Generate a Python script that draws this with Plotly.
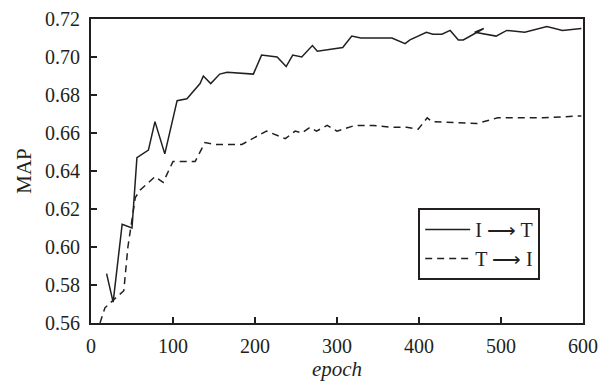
import plotly.graph_objects as go

# I -> T (solid)
it_epoch = [19, 27, 38, 50, 56, 70, 78, 90, 105, 117, 133, 137, 146, 157, 166, 198, 208, 227, 238, 246, 257, 270, 276, 307, 318, 329, 350, 367, 383, 389, 409, 417, 428, 438, 448, 454, 479, 468, 494, 507, 529, 556, 575, 598]
it_map = [0.586, 0.571, 0.612, 0.610, 0.647, 0.651, 0.666, 0.649, 0.677, 0.678, 0.686, 0.690, 0.686, 0.691, 0.692, 0.691, 0.701, 0.700, 0.695, 0.701, 0.700, 0.706, 0.703, 0.705, 0.711, 0.710, 0.710, 0.710, 0.707, 0.709, 0.713, 0.712, 0.712, 0.714, 0.709, 0.709, 0.715, 0.713, 0.711, 0.714, 0.713, 0.716, 0.714, 0.715]

# T -> I (dashed)
ti_epoch = [11, 17, 27, 40, 45, 54, 60, 78, 88, 100, 127, 139, 151, 184, 214, 237, 249, 257, 267, 275, 288, 300, 322, 344, 365, 385, 399, 410, 416, 471, 496, 551, 598]
ti_map = [0.560, 0.568, 0.572, 0.577, 0.600, 0.626, 0.630, 0.637, 0.634, 0.645, 0.645, 0.655, 0.654, 0.654, 0.661, 0.657, 0.661, 0.660, 0.663, 0.661, 0.664, 0.661, 0.664, 0.664, 0.663, 0.663, 0.662, 0.668, 0.666, 0.665, 0.668, 0.668, 0.669]

x_ticks = [0, 100, 200, 300, 400, 500, 600]
y_ticks = [0.56, 0.58, 0.60, 0.62, 0.64, 0.66, 0.68, 0.70, 0.72]

ink = "#231f20"
font_family = "Liberation Serif, Times New Roman, serif"

fig = go.Figure()
fig.add_trace(go.Scatter(x=it_epoch, y=it_map, mode="lines", name="I ⟶ T",
                         line=dict(color=ink, width=1.5)))
fig.add_trace(go.Scatter(x=ti_epoch, y=ti_map, mode="lines", name="T ⟶ I",
                         line=dict(color=ink, width=1.5, dash="7px,5px")))

axis_common = dict(showline=True, mirror=True, linecolor=ink, linewidth=2,
                   ticks="inside", ticklen=6, tickwidth=1.5, tickcolor=ink,
                   showgrid=False, zeroline=False, automargin=False,
                   tickfont=dict(family=font_family, size=20, color=ink))

fig.update_xaxes(range=[0, 600], tickvals=x_ticks, ticklabelstandoff=4,
                 title=dict(text="<i>epoch</i>", font=dict(family=font_family, size=21, color=ink), standoff=2),
                 **axis_common)
fig.update_yaxes(range=[0.56, 0.72], tickvals=y_ticks, tickformat=".2f", ticklabelstandoff=5,
                 title=dict(text="MAP", font=dict(family=font_family, size=21, color=ink), standoff=8),
                 **axis_common)

fig.update_layout(
    width=613, height=392,
    margin=dict(l=91, r=30, t=19, b=69),
    paper_bgcolor="white", plot_bgcolor="white",
    font=dict(family=font_family, color=ink),
    legend=dict(x=0.665, y=0.378, xanchor="left", yanchor="top",
                bgcolor="white", bordercolor=ink, borderwidth=2,
                font=dict(family=font_family, size=20, color=ink),
                tracegroupgap=0, itemwidth=45),
)

fig.write_html("out.html", config={"displayModeBar": False},
               post_script="document.body.style.margin='0';")
